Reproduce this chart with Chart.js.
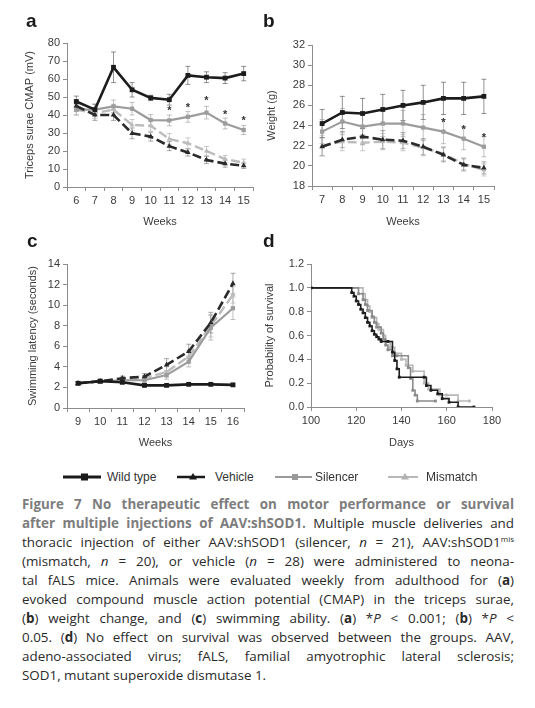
<!DOCTYPE html>
<html>
<head>
<meta charset="utf-8">
<script src="https://cdn.jsdelivr.net/npm/chart.js@4.4.1/dist/chart.umd.min.js"></script>
<style>
  html, body { margin: 0; padding: 0; background: #fff; }
  body { width: 535px; height: 708px; position: relative; overflow: hidden; font-family: "Liberation Sans", Arial, sans-serif; }
  canvas { position: absolute; }
  .plabel { position: absolute; font-family: "Liberation Sans", Arial, sans-serif; font-weight: bold; font-size: 19px; line-height: 19px; color: #1a1a1a; }
  #legend { position: absolute; left: 0; top: 468px; width: 535px; height: 18px; font-size: 12px; color: #333; }
  #legend .item { position: absolute; top: 0; height: 18px; line-height: 18px; }
  #legend svg { position: absolute; top: 0; }
  #caption { position: absolute; left: 22px; top: 495px; width: 492px; font-family: "Open Sans", "Noto Sans", sans-serif; font-size: 13.4px; line-height: 19px; color: #2a2a2a; }
  #caption .j { text-align: justify; text-align-last: justify; white-space: nowrap; }
  #caption .t { color: #7d7d7d; font-weight: 700; }
  #caption sup { font-size: 8px; line-height: 0; vertical-align: 5px; }
</style>
</head>
<body>
<canvas id="chartA" width="265" height="200" style="left:0px;top:30px"></canvas>
<canvas id="chartB" width="273" height="200" style="left:262px;top:30px"></canvas>
<canvas id="chartC" width="265" height="200" style="left:0px;top:250px"></canvas>
<canvas id="chartD" width="273" height="200" style="left:262px;top:250px"></canvas>
<div class="plabel" style="left:26px;top:11px">a</div>
<div class="plabel" style="left:263px;top:11px">b</div>
<div class="plabel" style="left:27px;top:231px">c</div>
<div class="plabel" style="left:263px;top:231px">d</div>

<div id="legend">
  <svg style="left:60px" width="44" height="18"><line x1="3" y1="9" x2="41" y2="9" stroke="#1a1a1a" stroke-width="3"/><rect x="21" y="5.5" width="7" height="7" fill="#1a1a1a"/></svg>
  <div class="item" style="left:107px">Wild type</div>
  <svg style="left:175px" width="34" height="18"><line x1="2" y1="9" x2="30" y2="9" stroke="#1a1a1a" stroke-width="2.5"/><polygon points="18,5 22,11.5 14,11.5" fill="#1a1a1a"/></svg>
  <div class="item" style="left:215px">Vehicle</div>
  <svg style="left:273px" width="42" height="18"><line x1="2" y1="9" x2="39" y2="9" stroke="#9a9a9a" stroke-width="2"/><rect x="19" y="6" width="6" height="6" fill="#9a9a9a"/></svg>
  <div class="item" style="left:315px">Silencer</div>
  <svg style="left:386px" width="34" height="18"><line x1="2" y1="9" x2="32" y2="9" stroke="#b8b8b8" stroke-width="2"/><polygon points="19,5 23,11.5 15,11.5" fill="#b0b0b0"/></svg>
  <div class="item" style="left:426px">Mismatch</div>
</div>

<div id="caption">
  <div class="j"><span class="t">Figure 7 No therapeutic effect on motor performance or survival</span></div>
  <div class="j"><span class="t">after multiple injections of AAV:shSOD1.</span> Multiple muscle deliveries and</div>
  <div class="j">thoracic injection of either AAV:shSOD1 (silencer, <i>n</i> = 21), AAV:shSOD1<sup>mis</sup></div>
  <div class="j">(mismatch, <i>n</i> = 20), or vehicle (<i>n</i> = 28) were administered to neona-</div>
  <div class="j">tal fALS mice. Animals were evaluated weekly from adulthood for (<b>a</b>)</div>
  <div class="j">evoked compound muscle action potential (CMAP) in the triceps surae,</div>
  <div class="j">(<b>b</b>) weight change, and (<b>c</b>) swimming ability. (<b>a</b>) *<i>P</i> &lt; 0.001; (<b>b</b>) *<i>P</i> &lt;</div>
  <div class="j">0.05. (<b>d</b>) No effect on survival was observed between the groups. AAV,</div>
  <div class="j">adeno-associated virus; fALS, familial amyotrophic lateral sclerosis;</div>
  <div>SOD1, mutant superoxide dismutase 1.</div>
</div>

<script>
// ---------------- DATA ----------------
// Panel a: CMAP (mV)
const weeksA = ['6', '7', '8', '9', '10', '11', '12', '13', '14', '15'];
const cmapWildType = [47.5, 43, 66.5, 54, 49.5, 48.5, 62, 61, 60.5, 63];
const cmapWildTypeErr = [3, 3, 8.5, 4, 1.5, 3, 5, 3, 3, 4];
const cmapVehicle = [45, 40, 40, 29.8, 28, 22.7, 19.2, 15, 13, 11.8];
const cmapVehicleErr = [3, 3, 3, 3, 2.5, 2.5, 2, 2, 2, 1.5];
const cmapSilencer = [43, 43, 44.8, 43.5, 37.2, 37, 39, 41.3, 35.3, 31.7];
const cmapSilencerErr = [3, 3, 3.5, 3.5, 3, 3, 3, 3.5, 3, 2.5];
const cmapMismatch = [43, 41, 43, 34.5, 34, 26.7, 24.3, 20, 15.5, 13.5];
const cmapMismatchErr = [3, 3, 3, 3, 3, 3, 3, 2.5, 2, 2];
const cmapStars = [null, null, null, null, null, 43.5, 45, 49, 41, 38];
const cmapTicks = [0, 80, 10];

// Panel b: Weight (g)
const weeksB = ['7', '8', '9', '10', '11', '12', '13', '14', '15'];
const weightWildType = [24.2, 25.3, 25.2, 25.6, 26.0, 26.3, 26.7, 26.7, 26.9];
const weightWildTypeErr = [1.4, 1.6, 1.5, 1.5, 1.5, 1.7, 1.6, 1.6, 1.7];
const weightVehicle = [21.9, 22.6, 22.9, 22.6, 22.5, 21.9, 21.1, 20.1, 19.8];
const weightVehicleErr = [0.9, 0.8, 0.8, 0.9, 0.8, 0.8, 0.7, 0.6, 0.6];
const weightSilencer = [23.4, 24.4, 23.9, 24.2, 24.2, 23.8, 23.4, 22.7, 21.9];
const weightSilencerErr = [1.2, 1.3, 1.2, 1.3, 1.3, 1.3, 1.2, 1.1, 1.0];
const weightMismatch = [22.0, 22.4, 22.3, 22.4, 22.3, 21.8, 21.2, 20.2, 19.6];
const weightMismatchErr = [1.0, 0.9, 0.8, 0.8, 0.8, 0.8, 0.7, 0.6, 0.6];
const weightStars = [null, null, null, null, null, null, 24.5, 23.8, 23.0];
const weightTicks = [18, 32, 2];

// Panel c: Swimming latency (seconds)
const weeksC = ['9', '10', '11', '12', '13', '14', '15', '16'];
const swimWildType = [2.4, 2.6, 2.5, 2.2, 2.2, 2.3, 2.3, 2.25];
const swimWildTypeErr = [0.15, 0.15, 0.15, 0.12, 0.1, 0.1, 0.1, 0.1];
const swimVehicle = [2.4, 2.6, 2.9, 3.05, 4.2, 5.5, 8.3, 12.1];
const swimVehicleErr = [0.15, 0.2, 0.2, 0.3, 0.6, 0.7, 1.0, 1.0];
const swimSilencer = [2.4, 2.6, 2.7, 2.7, 3.2, 4.5, 7.8, 9.7];
const swimSilencerErr = [0.15, 0.2, 0.2, 0.2, 0.4, 0.5, 1.2, 1.1];
const swimMismatch = [2.4, 2.6, 2.8, 2.9, 3.5, 5.0, 8.0, 11.0];
const swimMismatchErr = [0.15, 0.2, 0.2, 0.25, 0.5, 0.6, 1.1, 0.8];
const swimTicks = [0, 14, 2];

// Panel d: Kaplan-Meier survival
const survVehicleDays = [100, 118, 119, 120, 121, 122, 123, 124, 125, 126, 127, 128, 129, 130, 131, 134, 136, 137, 138, 139, 150, 151, 153, 156, 158, 161, 165, 172];
const survVehicleProb = [1.0, 0.96, 0.93, 0.89, 0.86, 0.82, 0.79, 0.75, 0.71, 0.68, 0.64, 0.61, 0.59, 0.57, 0.55, 0.55, 0.46, 0.39, 0.32, 0.25, 0.25, 0.18, 0.14, 0.11, 0.07, 0.04, 0.0, 0.0];
const survSilencerDays = [100, 121, 123, 124, 125, 127, 128, 129, 131, 132, 133, 134, 136, 138, 143, 144, 145, 146, 147, 155];
const survSilencerProb = [1.0, 0.95, 0.90, 0.86, 0.81, 0.76, 0.71, 0.67, 0.62, 0.57, 0.52, 0.48, 0.43, 0.43, 0.33, 0.24, 0.14, 0.10, 0.05, 0.05];
const survMismatchDays = [100, 123, 124, 125, 126, 127, 129, 130, 132, 133, 135, 137, 140, 142, 145, 150, 152, 157, 160, 165, 170];
const survMismatchProb = [1.0, 0.95, 0.90, 0.85, 0.80, 0.75, 0.70, 0.65, 0.60, 0.55, 0.50, 0.45, 0.40, 0.35, 0.30, 0.20, 0.15, 0.10, 0.10, 0.05, 0.05];
const survTicksY = [0, 1.2, 0.2];
const survTicksX = [100, 180, 20];

// ---------------- STYLE ----------------
const FONT = '"Liberation Sans", Arial, sans-serif';
const TXT = '#3a3a3a';
const AX = '#8c8c8c';
const series = {
  wild:     { color: '#1c1c1c', err: 'rgba(60,60,60,0.55)', width: 2.6, dash: [], point: 'rect', r: 3.4 },
  vehicle:  { color: '#2a2a2a', err: 'rgba(90,90,90,0.5)', width: 2.6, dash: [9, 4], point: 'triangle', r: 3.2 },
  silencer: { color: '#9c9c9c', err: 'rgba(150,150,150,0.6)', width: 2.2, dash: [], point: 'rect', r: 3 },
  mismatch: { color: '#bcbcbc', err: 'rgba(170,170,170,0.6)', width: 2.4, dash: [9, 4], point: 'triangle', r: 3 }
};

Chart.defaults.font.family = FONT;
Chart.defaults.font.size = 11;
Chart.defaults.color = TXT;

const errorBars = {
  id: 'errorBars',
  beforeDatasetsDraw(chart) {
    const ctx = chart.ctx, ys = chart.scales.y;
    chart.data.datasets.forEach((ds, di) => {
      if (!ds.errors) return;
      const meta = chart.getDatasetMeta(di);
      ctx.save();
      ctx.strokeStyle = ds.errorColor;
      ctx.lineWidth = 1;
      meta.data.forEach((pt, i) => {
        const v = ds.data[i], e = ds.errors[i];
        if (v == null || e == null) return;
        const yt = ys.getPixelForValue(v + e), yb = ys.getPixelForValue(v - e);
        ctx.beginPath();
        ctx.moveTo(pt.x, yt); ctx.lineTo(pt.x, yb);
        ctx.moveTo(pt.x - 2.5, yt); ctx.lineTo(pt.x + 2.5, yt);
        ctx.moveTo(pt.x - 2.5, yb); ctx.lineTo(pt.x + 2.5, yb);
        ctx.stroke();
      });
      ctx.restore();
    });
  }
};

const starMarks = {
  id: 'starMarks',
  afterDatasetsDraw(chart, args, opts) {
    if (!opts.values) return;
    const ctx = chart.ctx, xs = chart.scales.x, ys = chart.scales.y;
    ctx.save();
    ctx.fillStyle = '#333';
    ctx.font = 'bold 11px ' + FONT;
    ctx.textAlign = 'center';
    ctx.textBaseline = 'middle';
    opts.values.forEach((v, i) => {
      if (v == null) return;
      ctx.fillText('*', xs.getPixelForValue(i), ys.getPixelForValue(v) + 2);
    });
    ctx.restore();
  }
};

function axisBase() {
  return {
    grid: { display: true, drawOnChartArea: false, drawTicks: true, tickLength: 4, color: AX, lineWidth: 1 },
    border: { display: true, color: AX, width: 1 },
    ticks: { color: TXT, font: { family: FONT, size: 11 }, padding: 3, maxRotation: 0, autoSkip: false }
  };
}

function ds(label, key, data, errs) {
  const s = series[key];
  return {
    label, data, errors: errs, errorColor: s.err,
    borderColor: s.color, backgroundColor: s.color, borderWidth: s.width, borderDash: s.dash,
    pointStyle: s.point, pointRadius: s.r, pointBorderWidth: 0, pointBackgroundColor: s.color,
    tension: 0, fill: false
  };
}

function lineChart(id, labels, sets, yt, yTitle, box, stars) {
  const x = axisBase();
  x.type = 'category'; x.offset = true; x.grid.offset = true;
  x.title = { display: true, text: 'Weeks', color: TXT, font: { family: FONT, size: 11 }, padding: { top: 0, bottom: box.xtPad } };
  x.afterFit = (s) => { s.height = box.xh; };
  const y = axisBase();
  y.min = yt[0]; y.max = yt[1]; y.ticks.stepSize = yt[2];
  y.title = { display: true, text: yTitle, color: TXT, font: { family: FONT, size: 11 }, padding: { top: box.ytPad, bottom: 0 } };
  y.afterFit = (s) => { s.width = box.yw; };
  return new Chart(document.getElementById(id), {
    type: 'line',
    data: { labels, datasets: sets },
    options: {
      responsive: false, animation: false, devicePixelRatio: 1,
      layout: { padding: { left: 0, right: box.pr, top: box.pt, bottom: 0 } },
      plugins: { legend: { display: false }, tooltip: { enabled: false }, starMarks: { values: stars } },
      scales: { x, y }
    },
    plugins: [errorBars, starMarks]
  });
}

lineChart('chartA', weeksA, [
  ds('Wild type', 'wild', cmapWildType, cmapWildTypeErr),
  ds('Vehicle', 'vehicle', cmapVehicle, cmapVehicleErr),
  ds('Silencer', 'silencer', cmapSilencer, cmapSilencerErr),
  ds('Mismatch', 'mismatch', cmapMismatch, cmapMismatchErr)
], cmapTicks, 'Triceps surae CMAP (mV)', { yw: 67, xh: 43, pr: 12, pt: 13, xtPad: 1, ytPad: 23 }, cmapStars);

lineChart('chartB', weeksB, [
  ds('Wild type', 'wild', weightWildType, weightWildTypeErr),
  ds('Vehicle', 'vehicle', weightVehicle, weightVehicleErr),
  ds('Silencer', 'silencer', weightSilencer, weightSilencerErr),
  ds('Mismatch', 'mismatch', weightMismatch, weightMismatchErr)
], weightTicks, 'Weight (g)', { yw: 50, xh: 44, pr: 41, pt: 15, xtPad: 1, ytPad: 3 }, weightStars);

lineChart('chartC', weeksC, [
  ds('Wild type', 'wild', swimWildType, swimWildTypeErr),
  ds('Vehicle', 'vehicle', swimVehicle, swimVehicleErr),
  ds('Silencer', 'silencer', swimSilencer, swimSilencerErr),
  ds('Mismatch', 'mismatch', swimMismatch, swimMismatchErr)
], swimTicks, 'Swimming latency (seconds)', { yw: 67, xh: 42, pr: 21, pt: 14, xtPad: 0, ytPad: 26 }, null);

// Panel d
(function () {
  const zip = (xs, ys) => xs.map((v, i) => ({ x: v, y: ys[i] }));
  const km = (label, days, prob, col) => ({
    label, data: zip(days, prob), stepped: 'before',
    borderColor: col, backgroundColor: col, borderWidth: 1.6,
    pointStyle: 'rect', pointRadius: 2, pointBorderWidth: 0, pointBackgroundColor: col, fill: false
  });
  const x = axisBase();
  x.type = 'linear'; x.min = survTicksX[0]; x.max = survTicksX[1]; x.ticks.stepSize = survTicksX[2];
  x.title = { display: true, text: 'Days', color: TXT, font: { family: FONT, size: 11 }, padding: { top: 0, bottom: 0 } };
  x.afterFit = (s) => { s.height = 43; };
  const y = axisBase();
  y.min = survTicksY[0]; y.max = survTicksY[1]; y.ticks.stepSize = survTicksY[2];
  y.ticks.callback = (v) => Number(v).toFixed(1);
  y.title = { display: true, text: 'Probability of survival', color: TXT, font: { family: FONT, size: 11 }, padding: { top: 1.5, bottom: 0 } };
  y.afterFit = (s) => { s.width = 49; };
  new Chart(document.getElementById('chartD'), {
    type: 'line',
    data: { datasets: [
      km('Vehicle', survVehicleDays, survVehicleProb, '#1c1c1c'),
      km('Silencer', survSilencerDays, survSilencerProb, '#8a8a8a'),
      km('Mismatch', survMismatchDays, survMismatchProb, '#b8b8b8')
    ] },
    options: {
      responsive: false, animation: false, devicePixelRatio: 1,
      layout: { padding: { left: 0, right: 43, top: 14, bottom: 0 } },
      plugins: { legend: { display: false }, tooltip: { enabled: false } },
      scales: { x, y }
    }
  });
})();
</script>
</body>
</html>
